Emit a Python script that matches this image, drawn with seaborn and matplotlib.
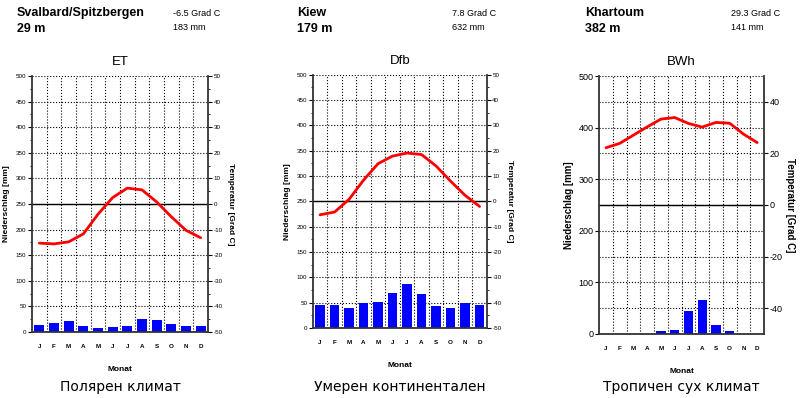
import numpy as np
import seaborn as sns
import matplotlib.pyplot as plt
from matplotlib.ticker import MultipleLocator

# month labels and climate data
months = ["J", "F", "M", "A", "M", "J", "J", "A", "S", "O", "N", "D"]

svalbard_temp = [-15.3, -15.6, -14.8, -11.7, -4.0, 2.5, 6.2, 5.5, 0.8, -5.0, -10.3, -13.2]
svalbard_prec = [14, 18, 22, 12, 7, 10, 12, 26, 24, 16, 12, 12]

kiew_temp = [-5.3, -4.2, 0.8, 8.4, 14.9, 17.9, 19.1, 18.5, 14.0, 8.0, 2.4, -2.0]
kiew_prec = [46, 46, 39, 49, 52, 69, 87, 67, 43, 39, 50, 46]

khartoum_temp = [22.2, 23.9, 27.1, 30.3, 33.3, 33.9, 31.6, 30.2, 32.0, 31.7, 27.5, 24.2]
khartoum_prec = [0, 0, 0, 0, 5, 8, 44, 65, 17, 5, 0, 0]

stations = ["Svalbard/Spitzbergen", "Kiew", "Khartoum"]
heights = ["29 m", "179 m", "382 m"]
mean_temps = ["-6.5 Grad C", "7.8 Grad C", "29.3 Grad C"]
totals = ["183 mm", "632 mm", "141 mm"]
climates = ["ET", "Dfb", "BWh"]
captions = ["Полярен климат", "Умерен континентален", "Тропичен сух климат"]

sns.set_style("ticks", rc={"text.color": "black", "axes.labelcolor": "black",
                           "xtick.color": "black", "ytick.color": "black"})
plt.rcParams["font.family"] = ["Liberation Sans", "DejaVu Sans"]
plt.rcParams["axes.unicode_minus"] = False

fig = plt.figure(figsize=(8, 3.98), dpi=100)

# axes boxes [left, bottom, width, height] in figure fraction
boxes = [
    [0.040, 0.166, 0.220, 0.643],
    [0.391, 0.176, 0.2175, 0.636],
    [0.749, 0.161, 0.206, 0.648],
]
head_x = [0.021, 0.371, 0.731]
info_x = [0.216, 0.565, 0.914]
temps = [svalbard_temp, kiew_temp, khartoum_temp]
precs = [svalbard_prec, kiew_prec, khartoum_prec]
x = np.arange(12)

for i in range(3):
    big = i == 2
    ax = fig.add_axes(boxes[i])
    sns.barplot(x=x, y=precs[i], color="#0000FF", saturation=1, width=0.68,
                linewidth=0, ax=ax)
    ax.set_xlim(-0.5, 11.5)
    ax.set_ylim(0, 500)

    # month ticks, dotted month separators
    ax.set_xticks(x)
    ax.set_xticklabels(months, fontsize=4.5, fontweight="bold")
    ax.set_xticks(np.arange(0.5, 11.5, 1), minor=True)
    ax.tick_params(axis="x", which="both", length=0, pad=9)
    ax.grid(True, which="minor", axis="x", color="black", linestyle=":", linewidth=0.8)

    # dotted every 50 mm, solid at 0 deg C
    if big:
        ax.yaxis.set_major_locator(MultipleLocator(100))
        ax.yaxis.set_minor_locator(MultipleLocator(50))
        ax.tick_params(axis="y", which="major", length=3, width=0.8, labelsize=6.5, pad=1)
        ax.tick_params(axis="y", which="minor", length=0)
        ax.grid(True, which="both", axis="y", color="black", linestyle=":", linewidth=0.8)
    else:
        ax.yaxis.set_major_locator(MultipleLocator(50))
        ax.yaxis.set_minor_locator(MultipleLocator(25))
        ax.tick_params(axis="y", which="major", length=3, width=0.8, labelsize=4.5, pad=1)
        ax.tick_params(axis="y", which="minor", length=1.5, width=0.6)
        ax.grid(True, which="major", axis="y", color="black", linestyle=":", linewidth=0.8)
    ax.set_axisbelow(True)
    ax.axhline(250, color="black", linewidth=1.0, zorder=1)

    for s in ["left", "bottom"]:
        ax.spines[s].set_color("#333333")
        ax.spines[s].set_linewidth(1.3)
    ax.spines["top"].set_visible(False)
    ax.spines["right"].set_visible(False)

    ax.set_ylabel("Niederschlag [mm]", fontsize=7 if big else 6, fontweight="bold",
                  labelpad=3 if big else 4)
    ax.set_xlabel("Monat", fontsize=6, fontweight="bold", labelpad=12)
    ax.set_title(climates[i], fontsize=9.5, pad=8)

    ax2 = ax.twinx()
    sns.lineplot(x=x, y=temps[i], color="#FF0000", linewidth=2.0, ax=ax2)
    ax2.set_ylim(-50, 50)
    if big:
        ax2.set_yticks([-40, -20, 0, 20, 40])
        ax2.tick_params(axis="y", length=3, width=0.8, labelsize=6.5, pad=1)
    else:
        ax2.yaxis.set_major_locator(MultipleLocator(10))
        ax2.yaxis.set_minor_locator(MultipleLocator(5))
        ax2.tick_params(axis="y", which="major", length=3, width=0.8, labelsize=4.5, pad=1)
        ax2.tick_params(axis="y", which="minor", length=1.5, width=0.6)
    for s in ["left", "top", "bottom"]:
        ax2.spines[s].set_visible(False)
    ax2.spines["right"].set_color("#333333")
    ax2.spines["right"].set_linewidth(1.3)
    ax2.set_ylabel("Temperatur [Grad C]", fontsize=7 if big else 6, fontweight="bold",
                   rotation=-90, labelpad=9 if big else 8)

    # header texts
    fig.text(head_x[i], 0.968, stations[i], fontsize=9, fontweight="bold", va="center")
    fig.text(head_x[i], 0.928, heights[i], fontsize=9, fontweight="bold", va="center")
    fig.text(info_x[i], 0.966, mean_temps[i], fontsize=6.5, va="center")
    fig.text(info_x[i], 0.931, totals[i], fontsize=6.5, va="center")

    fig.text(boxes[i][0] + boxes[i][2] / 2, 0.028, captions[i], fontsize=10,
             family="DejaVu Sans", ha="center", va="center")

fig.savefig("out.png", dpi=100)
